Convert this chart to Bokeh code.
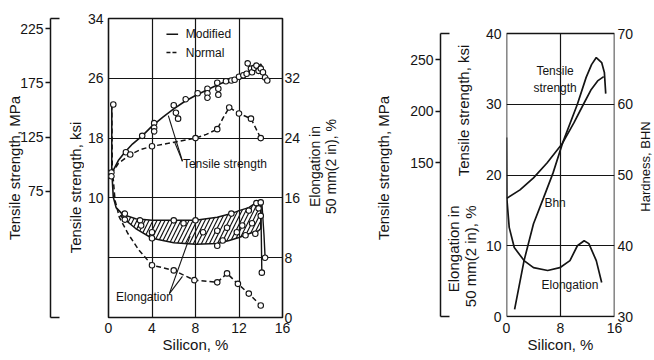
import math
from bokeh.plotting import figure
from bokeh.models import Range1d, LinearAxis, FixedTicker, Label
from bokeh.layouts import row
from bokeh.embed import file_html
from bokeh.resources import INLINE

KSI_TO_MPA = 6.895
INK = "#141414"
FONT = "Liberation Sans"
H = 358
FRAME_TOP = 18
FRAME_BOTTOM = 317

# ---------------- left panel data (modified vs normal Al-Si) ----------------
left_si_ticks = [0, 4, 8, 12, 16]
left_si_grid = [4, 8, 12]
left_ksi_ticks = [10, 18, 26, 34]
left_ksi_grid = [2, 10, 18, 26]
left_ksi_lim = [-6, 34]
left_mpa_ticks = [75, 125, 175, 225]
left_elong_ticks = [0, 8, 16, 24, 32]
left_elong_lim = [0, 40]

mod_ts_si = [0.27, 0.9, 1.5, 2.2, 3.1, 4.0, 5.0, 6.0, 7.0, 8.0, 9.0, 10.0, 11.0, 12.0, 12.9, 13.6, 14.0, 14.3, 14.6]
mod_ts_ksi = [13.2, 15.0, 16.1, 17.2, 18.3, 19.6, 20.8, 21.9, 22.9, 23.7, 24.4, 25.1, 25.7, 26.2, 26.8, 27.3, 27.9, 27.0, 25.7]
mod_ts_pt_si = [0.27, 0.27, 1.6, 3.1, 4.2, 4.2, 4.2, 6.0, 6.2, 6.4, 7.1, 8.2, 9.1, 9.1, 9.1, 10.0, 10.1, 10.1, 10.8, 11.3,
                11.6, 12.0, 12.4, 12.7, 12.8, 13.1, 13.2, 13.4, 13.6, 13.8, 14.0, 14.2, 14.4, 14.6]
mod_ts_pt_ksi = [13.4, 12.9, 16.1, 18.3, 20.0, 19.4, 18.9, 22.4, 21.4, 20.6, 23.2, 24.0, 24.6, 24.0, 23.4, 25.4, 24.6, 23.8, 25.6, 25.7,
                 25.8, 26.2, 26.4, 26.6, 28.0, 27.3, 26.8, 27.4, 27.7, 27.0, 27.3, 26.8, 26.1, 25.7]

norm_ts_si = [0.27, 0.9, 2.0, 3.0, 4.0, 5.5, 8.0, 9.0, 10.0, 10.5, 11.1, 12.0, 13.1, 14.0]
norm_ts_ksi = [13.2, 14.6, 15.8, 16.5, 16.9, 17.3, 18.0, 18.5, 19.2, 20.6, 22.1, 21.3, 20.6, 18.0]
norm_ts_pt_si = [2.0, 4.0, 8.0, 10.0, 11.1, 12.0, 13.1, 14.0]
norm_ts_pt_ksi = [15.8, 16.9, 18.0, 19.2, 22.1, 21.3, 20.6, 18.0]

# elongation, %  (modified: hatched scatter band)
mod_el_lead_si = [0.3, 0.3, 0.44, 0.7, 1.3]
mod_el_lead = [28.5, 19.7, 16.1, 14.7, 13.8]
mod_el_up_si = [1.3, 2.5, 4.0, 6.0, 8.0, 10.0, 11.3, 12.0, 12.9, 13.5, 14.0]
mod_el_up = [13.8, 13.2, 13.0, 13.0, 13.0, 13.4, 13.9, 14.3, 14.7, 15.3, 15.7]
mod_el_lo_si = [1.1, 2.5, 4.0, 6.0, 8.0, 10.0, 11.1, 12.0, 12.9, 13.8, 14.0]
mod_el_lo = [13.6, 11.9, 10.6, 10.0, 9.8, 9.9, 10.3, 10.7, 11.2, 11.6, 11.9]
mod_el_drop_a_si = [14.0, 14.05, 14.1]
mod_el_drop_a = [15.7, 11.0, 6.0]
mod_el_drop_b_si = [14.1, 14.3, 14.4]
mod_el_drop_b = [15.4, 11.0, 8.0]
mod_el_pt_si = [0.44, 1.5, 1.5, 2.9, 3.0, 4.0, 4.0, 6.0, 6.9, 8.0, 8.7, 10.0, 10.0, 10.5, 10.9, 11.3, 11.8, 12.3, 12.6, 12.9,
                13.2, 13.5, 13.6, 13.8, 14.0, 14.0, 14.1, 14.4]
mod_el_pt = [28.5, 13.9, 13.1, 13.0, 12.3, 11.4, 10.6, 13.0, 12.6, 13.0, 11.4, 11.6, 9.6, 10.3, 12.0, 13.9, 11.4, 12.3, 11.0, 14.3,
             12.6, 11.2, 15.3, 14.6, 13.6, 15.4, 6.0, 8.0]

norm_el_si = [0.3, 0.35, 0.6, 1.0, 1.8, 2.8, 4.0, 6.0, 7.9, 10.0, 10.9, 11.9, 12.9, 14.0]
norm_el = [28.5, 20.0, 15.7, 13.4, 11.2, 9.0, 7.0, 6.3, 5.0, 4.7, 5.9, 4.5, 3.2, 1.6]
norm_el_pt_si = [4.0, 6.0, 7.9, 10.0, 10.9, 11.9, 12.9, 14.0]
norm_el_pt = [7.0, 6.3, 5.0, 4.7, 5.9, 4.5, 3.2, 1.6]

ts_leader_x0 = [6.8, 6.8]
ts_leader_y0 = [14.9, 14.9]
ts_leader_x1 = [5.5, 6.1]
ts_leader_y1 = [21.0, 17.4]
el_leader_x0 = [5.6, 5.6]
el_leader_y0 = [3.2, 3.2]
el_leader_x1 = [7.5, 6.8]
el_leader_y1 = [10.9, 5.5]
legend_key_x = [5.33, 6.4]
legend_key_ksi = [31.9, 29.45]

# ---------------- right panel data ----------------
right_si_ticks = [0, 8, 16]
right_si_grid = [8]
right_si_lim = [0, 16]
right_ksi_ticks = [0, 10, 20, 30, 40]
right_ksi_grid = [10, 20, 30]
right_ksi_lim = [0, 40]
right_mpa_ticks = [150, 200, 250]
right_bhn_ticks = [30, 40, 50, 60, 70]

ts2_si = [0.05, 2.0, 4.0, 6.0, 8.3, 10.0, 11.4, 12.5, 13.5, 14.4]
ts2_ksi = [16.7, 17.9, 19.6, 21.7, 24.5, 27.4, 30.0, 32.0, 33.3, 33.9]
bhn_si = [1.2, 2.6, 4.0, 5.5, 6.9, 8.3, 10.5, 11.8, 12.6, 13.3, 14.1, 14.5, 14.7]
bhn = [31.0, 37.9, 43.1, 46.8, 50.3, 54.5, 60.0, 63.8, 65.6, 66.6, 65.9, 64.5, 61.5]
el2_si = [0.0, 0.05, 0.4, 1.15, 2.6, 4.0, 6.1, 7.9, 9.4, 10.5, 11.5, 12.2, 13.3, 14.1]
el2 = [25.3, 16.7, 12.6, 9.75, 7.9, 6.9, 6.5, 6.9, 7.9, 10.0, 10.7, 10.3, 7.9, 4.8]

# right panel: ksi 0 sits at pixel row 316, ksi 40 at row 33 (frame rows 18..317)
R_PX_PER_KSI = (316 - 33) / 40.0
right_ksi_view = (right_ksi_lim[0] - (FRAME_BOTTOM - 316) / R_PX_PER_KSI,
                  right_ksi_lim[1] + (33 - FRAME_TOP) / R_PX_PER_KSI)


def style_axis(ax, size="14px"):
    ax.axis_line_color = None
    ax.major_tick_in = 0
    ax.major_tick_out = 0
    ax.minor_tick_line_color = None
    ax.major_label_text_font = FONT
    ax.major_label_text_font_size = size
    ax.major_label_text_color = INK


def title_style(ax, text, standoff):
    ax.axis_label = text
    ax.axis_label_text_font = FONT
    ax.axis_label_text_font_size = "15px"
    ax.axis_label_text_font_style = "normal"
    ax.axis_label_text_color = INK
    ax.axis_label_standoff = standoff


def mpa_axis(lo, hi, ticks):
    return LinearAxis(y_range_name="mpa", bounds=(lo, hi),
                      ticker=FixedTicker(ticks=ticks, minor_ticks=[lo + 0.4, hi - 0.4]),
                      axis_line_color=INK, axis_line_width=1.5,
                      major_tick_in=0, major_tick_out=5, major_tick_line_color=INK, major_tick_line_width=1.5,
                      minor_tick_in=9, minor_tick_out=0, minor_tick_line_color=INK, minor_tick_line_width=1.5,
                      major_label_standoff=2, major_label_text_font=FONT,
                      major_label_text_font_size="14px", major_label_text_color=INK)


def add_label(p, x, y, text, size="15px", angle=0.0, align="center", baseline="middle", line_height=1.2):
    p.add_layout(Label(x=x, y=y, text=text, angle=angle, text_align=align, text_baseline=baseline,
                       text_font=FONT, text_font_size=size, text_color=INK, text_line_height=line_height))


def text_fig(x_left, x_right, frame_left=None):
    fl = x_left if frame_left is None else frame_left
    p = figure(width=x_right - x_left, height=H, x_range=Range1d(fl, x_right),
               y_range=Range1d(-FRAME_BOTTOM, -FRAME_TOP),
               x_axis_location=None, y_axis_location=None,
               output_backend="svg", toolbar_location=None,
               min_border_left=fl - x_left, min_border_right=0,
               min_border_top=FRAME_TOP, min_border_bottom=H - FRAME_BOTTOM)
    p.outline_line_color = None
    p.background_fill_color = "white"
    p.border_fill_color = "white"
    p.grid.visible = False
    p.grid.grid_line_color = None
    return p


def plot_fig(x_left, x_right, frame_left, frame_right, y_lo, y_hi):
    p = figure(width=x_right - x_left, height=H, x_range=Range1d(0, 16), y_range=Range1d(y_lo, y_hi),
               output_backend="svg", toolbar_location=None,
               min_border_left=frame_left - x_left, min_border_right=x_right - frame_right,
               min_border_top=FRAME_TOP, min_border_bottom=H - FRAME_BOTTOM)
    p.background_fill_color = "white"
    p.border_fill_color = "white"
    p.outline_line_color = INK
    p.outline_line_width = 1.6
    return p


# ============ left: MPa scale + ksi title strip ============
pa1 = text_fig(0, 84, frame_left=50)
mpa_lo1, mpa_hi1 = left_ksi_lim[0] * KSI_TO_MPA, left_ksi_lim[1] * KSI_TO_MPA
pa1.extra_y_ranges = {"mpa": Range1d(mpa_lo1, mpa_hi1)}
ma1 = mpa_axis(mpa_lo1, mpa_hi1, left_mpa_ticks)
title_style(ma1, "Tensile strength, MPa", -6)
pa1.add_layout(ma1, "left")
add_label(pa1, 75, -187, "Tensile strength, ksi", angle=math.pi / 2)

# ============ left: main plot ============
p1 = plot_fig(84, 303, 105, 285, left_ksi_lim[0], left_ksi_lim[1])
p1.extra_y_ranges = {"elong": Range1d(left_elong_lim[0], left_elong_lim[1])}

xa1 = p1.xaxis[0]
style_axis(xa1)
xa1.ticker = FixedTicker(ticks=left_si_ticks)
xa1.major_label_standoff = 5
title_style(xa1, "Silicon, %", 0)

ya1 = p1.yaxis[0]
style_axis(ya1)
ya1.ticker = FixedTicker(ticks=left_ksi_ticks)
ya1.major_label_standoff = 5

ea1 = LinearAxis(y_range_name="elong", ticker=FixedTicker(ticks=left_elong_ticks))
style_axis(ea1)
ea1.major_label_standoff = 2
p1.add_layout(ea1, "right")

p1.xgrid.ticker = FixedTicker(ticks=left_si_grid)
p1.ygrid.ticker = FixedTicker(ticks=left_ksi_grid)
p1.grid.grid_line_color = INK
p1.grid.grid_line_width = 1.2
p1.grid.grid_line_alpha = 1.0

band_x = mod_el_up_si + mod_el_lo_si[::-1]
band_y = mod_el_up + mod_el_lo[::-1]
p1.patch(band_x, band_y, y_range_name="elong", fill_color=None, line_color=INK, line_width=1.5,
         hatch_pattern="/", hatch_color=INK, hatch_scale=8, hatch_weight=1.2)
p1.line(mod_el_lead_si, mod_el_lead, y_range_name="elong", line_color=INK, line_width=1.6)
p1.line(mod_el_drop_a_si, mod_el_drop_a, y_range_name="elong", line_color=INK, line_width=1.4)
p1.line(mod_el_drop_b_si, mod_el_drop_b, y_range_name="elong", line_color=INK, line_width=1.4)
p1.line(norm_el_si, norm_el, y_range_name="elong", line_color=INK, line_width=1.5, line_dash="5 3")

p1.line(mod_ts_si, mod_ts_ksi, line_color=INK, line_width=1.6)
p1.line(norm_ts_si, norm_ts_ksi, line_color=INK, line_width=1.5, line_dash="5 3")

pt_style = dict(marker="circle", size=5.5, fill_color="white", line_color=INK, line_width=1.1)
p1.scatter(mod_ts_pt_si, mod_ts_pt_ksi, **pt_style)
p1.scatter(norm_ts_pt_si, norm_ts_pt_ksi, **pt_style)
p1.scatter(mod_el_pt_si, mod_el_pt, y_range_name="elong", **pt_style)
p1.scatter(norm_el_pt_si, norm_el_pt, y_range_name="elong", **pt_style)

p1.segment(ts_leader_x0, ts_leader_y0, ts_leader_x1, ts_leader_y1, line_color=INK, line_width=1.1)
p1.segment(el_leader_x0, el_leader_y0, el_leader_x1, el_leader_y1, y_range_name="elong",
           line_color=INK, line_width=1.1)

# legend keys
p1.line(legend_key_x, [legend_key_ksi[0]] * 2, line_color=INK, line_width=1.6)
p1.line(legend_key_x, [legend_key_ksi[1]] * 2, line_color=INK, line_width=1.5, line_dash="4 2")
add_label(p1, 7.1, legend_key_ksi[0], "Modified", size="12px", align="left")
add_label(p1, 7.1, legend_key_ksi[1], "Normal", size="12px", align="left")

add_label(p1, 6.84, 14.6, "Tensile strength", size="12px", align="left")
add_label(p1, 0.7, -3.2, "Elongation", size="12px", align="left")

# ============ strip: left elongation title ============
pc = text_fig(303, 372)
add_label(pc, 322, -166, "Elongation in\n50 mm(2 in), %", size="14px", angle=math.pi / 2, line_height=1.0)

# ============ right: MPa scale + ksi / elongation titles ============
pa2 = text_fig(372, 482, frame_left=438)
mpa_lo2 = right_ksi_view[0] * KSI_TO_MPA
mpa_hi2 = right_ksi_view[1] * KSI_TO_MPA
pa2.extra_y_ranges = {"mpa": Range1d(mpa_lo2, mpa_hi2)}
ma2 = mpa_axis(right_ksi_lim[0] * KSI_TO_MPA, right_ksi_lim[1] * KSI_TO_MPA, right_mpa_ticks)
title_style(ma2, "Tensile strength, MPa", 15)
pa2.add_layout(ma2, "left")
add_label(pa2, 462, -110, "Tensile strength, ksi", angle=math.pi / 2)
add_label(pa2, 461, -205, "Elongation in\n50 mm(2 in), %", angle=math.pi / 2, align="right", line_height=1.0)

# ============ right: main plot ============
p2 = plot_fig(482, 636, 505, 614, right_ksi_view[0], right_ksi_view[1])
p2.outline_line_color = None
p2.extra_y_ranges = {"bhn": Range1d(right_ksi_view[0] + 30, right_ksi_view[1] + 30)}

xa2 = p2.xaxis[0]
style_axis(xa2)
xa2.ticker = FixedTicker(ticks=right_si_ticks)
xa2.major_label_standoff = 5
title_style(xa2, "Silicon, %", 0)

ya2 = p2.yaxis[0]
style_axis(ya2)
ya2.ticker = FixedTicker(ticks=right_ksi_ticks)
ya2.major_label_standoff = 5

ba2 = LinearAxis(y_range_name="bhn", ticker=FixedTicker(ticks=right_bhn_ticks))
style_axis(ba2)
ba2.major_label_standoff = 3
p2.add_layout(ba2, "right")

p2.xgrid.visible = False
p2.ygrid.ticker = FixedTicker(ticks=right_ksi_grid)
p2.ygrid.grid_line_color = INK
p2.ygrid.grid_line_width = 1.2
p2.ygrid.grid_line_alpha = 1.0
p2.segment(right_si_grid, [right_ksi_lim[0]] * len(right_si_grid), right_si_grid,
           [right_ksi_lim[1]] * len(right_si_grid), line_color=INK, line_width=1.2)
box_x = [right_si_lim[0], right_si_lim[1], right_si_lim[1], right_si_lim[0], right_si_lim[0]]
box_y = [right_ksi_lim[0], right_ksi_lim[0], right_ksi_lim[1], right_ksi_lim[1], right_ksi_lim[0]]
p2.line(box_x, box_y, line_color=INK, line_width=1.6)

p2.line(ts2_si, ts2_ksi, line_color=INK, line_width=1.7)
p2.line(bhn_si, bhn, y_range_name="bhn", line_color=INK, line_width=1.7)
p2.line(el2_si, el2, line_color=INK, line_width=1.7)

add_label(p2, 7.2, 33.45, "Tensile\nstrength", size="12px")
add_label(p2, 7.2, 16.0, "Bhn", size="12px")
add_label(p2, 9.4, 4.4, "Elongation", size="12px")

# ============ strip: hardness title ============
pd = text_fig(636, 652)
add_label(pd, 644.5, -166, "Hardness, BHN", size="13px", angle=math.pi / 2)

layout = row(pa1, p1, pc, pa2, p2, pd)
open("out.html", "w").write(file_html(layout, INLINE))
